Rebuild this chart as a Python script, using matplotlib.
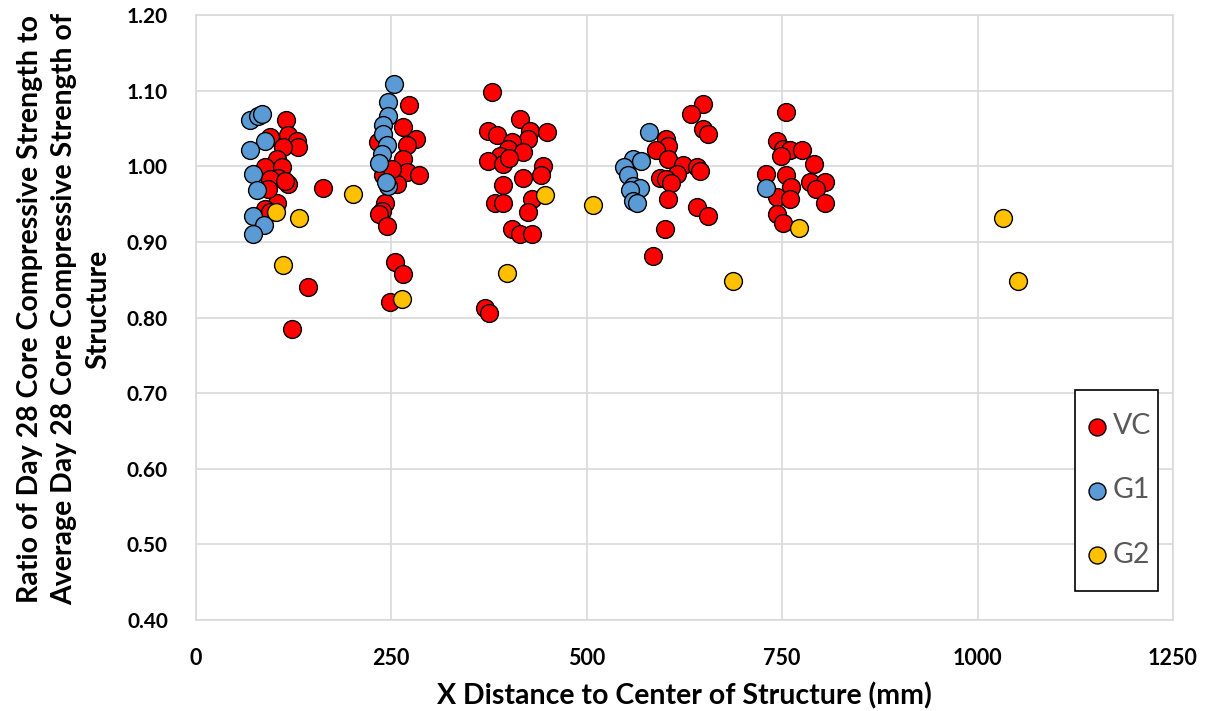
import matplotlib
matplotlib.use("Agg")
import matplotlib.pyplot as plt
from matplotlib.patches import Rectangle

# VC series: x distance (mm), strength ratio
vc_x = [115.5, 95, 118.4, 129, 131, 112, 103.6, 88.6, 110, 105.6, 95, 118.4, 114.2, 103.6, 88.6, 95, 92.5, 163, 144, 123.5,
        273, 265, 282, 270, 233.5, 265.5, 270, 285, 257, 240, 242, 238, 235, 245, 250.6, 255, 264.7, 249,
        378.5, 414.7, 374, 385, 427.5, 449, 425, 404, 400, 389, 419, 374, 393, 401, 444.5, 441, 419, 393, 383, 393,
        429.5, 425, 404, 414.7, 429.5, 370, 375.5,
        649, 634, 649, 655.5, 601, 604, 588.6, 604, 623.5, 640.6, 645, 594, 615, 602, 608, 604, 640.6, 655.5, 600, 585,
        755, 744, 751.5, 760, 776, 749, 790.5, 729, 755, 786, 805, 794, 761, 743, 760, 805, 743, 751]
vc_y = [1.061, 1.039, 1.041, 1.034, 1.025, 1.025, 1.010, 0.999, 0.999, 0.985, 0.983, 0.976, 0.981, 0.952, 0.943, 0.939, 0.970, 0.971, 0.841, 0.785,
        1.081, 1.052, 1.036, 1.028, 1.032, 1.010, 0.992, 0.988, 0.976, 0.988, 0.952, 0.941, 0.937, 0.921, 0.996, 0.873, 0.857, 0.820,
        1.098, 1.063, 1.047, 1.042, 1.047, 1.046, 1.036, 1.032, 1.023, 1.014, 1.019, 1.007, 1.003, 1.011, 1.000, 0.988, 0.984, 0.975, 0.952, 0.952,
        0.957, 0.939, 0.917, 0.910, 0.910, 0.813, 0.806,
        1.083, 1.069, 1.049, 1.043, 1.036, 1.027, 1.021, 1.010, 1.002, 0.999, 0.994, 0.985, 0.990, 0.983, 0.978, 0.957, 0.946, 0.934, 0.917, 0.881,
        1.072, 1.034, 1.023, 1.021, 1.021, 1.014, 1.003, 0.990, 0.988, 0.979, 0.979, 0.970, 0.972, 0.959, 0.957, 0.952, 0.937, 0.925]

# G1 series
g1_x = [69.4, 80, 84.4, 88.6, 69.4, 73.7, 78.8, 73.7, 87.3, 73.7,
        254, 246, 246, 240, 239, 245, 238, 235, 246, 244,
        579.7, 559.6, 570, 547.7, 553, 559.6, 568, 555.4, 559.6, 564,
        729]
g1_y = [1.061, 1.066, 1.069, 1.034, 1.021, 0.990, 0.969, 0.934, 0.923, 0.910,
        1.109, 1.085, 1.067, 1.054, 1.043, 1.028, 1.016, 1.005, 0.974, 0.979,
        1.045, 1.010, 1.007, 0.999, 0.988, 0.974, 0.971, 0.969, 0.954, 0.952,
        0.971]

# G2 series
g2_x = [102.7, 132, 111, 201.5, 263.4, 397.7, 446.7, 507.7, 687.5, 772, 1032.8, 1052]
g2_y = [0.940, 0.932, 0.870, 0.964, 0.825, 0.859, 0.962, 0.949, 0.848, 0.918, 0.931, 0.848]

x_ticks = [0, 250, 500, 750, 1000, 1250]
y_ticks = [0.40, 0.50, 0.60, 0.70, 0.80, 0.90, 1.00, 1.10, 1.20]

plt.rcParams['font.family'] = ['Lato', 'DejaVu Sans']

fig = plt.figure(figsize=(12.09, 7.11), dpi=100)
ax = fig.add_axes([0.1619, 0.128, 0.8083, 0.8508])

common = dict(s=165, edgecolors='black', linewidths=1.0, zorder=3)
ax.scatter(vc_x, vc_y, c='#FF0000', label='VC', **common)
ax.scatter(g1_x, g1_y, c='#5B9BD5', label='G1', **common)
ax.scatter(g2_x, g2_y, c='#FFC000', label='G2', **common)

ax.set_xlim(0, 1250)
ax.set_ylim(0.40, 1.20)
ax.set_xticks(x_ticks)
ax.set_yticks(y_ticks)
ax.set_xticklabels([str(v) for v in x_ticks], fontsize=15.5, fontweight='bold')
ax.set_yticklabels([f"{v:.2f}" for v in y_ticks], fontsize=15, fontweight='bold')
ax.tick_params(axis='both', length=0)
ax.tick_params(axis='y', pad=20)
ax.tick_params(axis='x', pad=20)

ax.grid(True, color='#d9d9d9', linewidth=1.2, zorder=0)
ax.set_axisbelow(True)
for sp in ax.spines.values():
    sp.set_color('#d9d9d9')
    sp.set_linewidth(1.2)

ax.set_xlabel('X Distance to Center of Structure (mm)', fontsize=20.5, fontweight='bold', labelpad=10)
fig.text(0.053, 0.565,
         'Ratio of Day 28 Core Compressive Strength to\nAverage Day 28 Core Compressive Strength of\nStructure',
         rotation=90, ha='center', va='center', fontsize=20.5, fontweight='bold',
         linespacing=1.4, multialignment='center')

# legend box with a plain black frame
box = (0.8892, 0.1688, 0.0687, 0.2827)
ax.add_patch(Rectangle(box[:2], box[2], box[3], transform=fig.transFigure, clip_on=False,
                       facecolor='white', edgecolor='black', linewidth=1.2, zorder=5))
leg = ax.legend(loc='center', bbox_to_anchor=(box[0] + box[2] / 2 + 0.002, box[1] + box[3] / 2),
                bbox_transform=fig.transFigure, frameon=False, fontsize=20.5, labelspacing=1.35,
                handletextpad=0.2, borderpad=0.2, markerscale=0.95, handlelength=0.7, borderaxespad=0)
leg.set_zorder(6)
for t in leg.get_texts():
    t.set_color('#595959')

fig.savefig('out.png', dpi=100)
